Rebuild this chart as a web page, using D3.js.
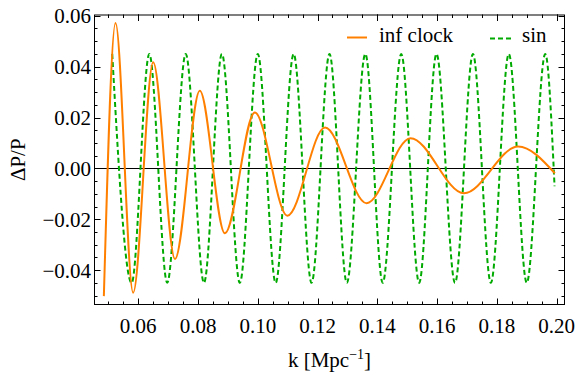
<!DOCTYPE html>
<html lang="en">
<head>
    <meta charset="UTF-8">
    <title>inf clock vs sin</title>
    <script src="https://d3js.org/d3.v7.min.js"></script>
    <style>
        body {margin: 0; background: white;}
        svg text {
            font-family: "Liberation Serif", "Times New Roman", Tinos, "DejaVu Serif", "Noto Serif", Times, serif;
            fill: black;
        }
    </style>
</head>
<body>
<script>
    // values: extrema (and end points) of each curve
    const clockK = [0.0485, 0.0524, 0.0583, 0.0650, 0.0723, 0.0806, 0.0890, 0.0990, 0.1099,
                    0.1225, 0.1364, 0.1511, 0.1690, 0.1871, 0.1994];
    const clockV = [-0.0502, 0.0572, -0.0489, 0.0417, -0.0356, 0.0305, -0.0255, 0.0220, -0.0186,
                    0.0161, -0.0137, 0.0119, -0.0098, 0.0086, -0.0019];

    const sinK = [0.0513, 0.0578, 0.0637, 0.0697, 0.0759, 0.0820, 0.0880, 0.0940, 0.1000,
                  0.1060, 0.1120, 0.1180, 0.1240, 0.1298, 0.1360, 0.1418, 0.1480, 0.1540,
                  0.1598, 0.1660, 0.1720, 0.1780, 0.1840, 0.1900, 0.1962, 0.1993];
    const sinV = [0.045, -0.045, 0.045, -0.045, 0.045, -0.045, 0.045, -0.045, 0.045,
                  -0.045, 0.045, -0.045, 0.045, -0.045, 0.045, -0.045, 0.045, -0.045,
                  0.045, -0.045, 0.045, -0.045, 0.045, -0.045, 0.045, -0.007];

    const xTicks = [0.06, 0.08, 0.10, 0.12, 0.14, 0.16, 0.18, 0.20];
    const yTicks = [-0.04, -0.02, 0.00, 0.02, 0.04, 0.06];
    const legendLabels = ["inf clock", "sin"];

    const width = 576;
    const height = 377;
    const margin = {top: 14.5, right: 11, bottom: 72, left: 94};
    const serif = '"Liberation Serif", "Times New Roman", Tinos, "DejaVu Serif", "Noto Serif", Times, serif';

    const svg = d3.select("body").append("svg")
            .attr("width", width).attr("height", height)
            .attr("font-family", serif);

    const x = d3.scaleLinear().domain([0.0452, 0.2028])
            .range([margin.left, width - margin.right]);
    const y = d3.scaleLinear().domain([-0.0537, 0.0605])
            .range([height - margin.bottom, margin.top]);

    const fmt = v => (v < 0 ? "\u2212" : "") + Math.abs(v).toFixed(2);

    const xMinor = d3.range(0.05, 0.2026, 0.005).map(v => +v.toFixed(3));
    const yMinor = d3.range(-0.05, 0.0604, 0.005).map(v => +v.toFixed(3));

    // the frame's ticks all point inward
    const x0 = x.range()[0], x1 = x.range()[1];
    const y0 = y.range()[0], y1 = y.range()[1];
    const ticks = svg.append("g").attr("stroke", "black").attr("stroke-width", 1);

    function addX(vals, len) {
        vals.forEach(v => {
            const px = Math.round(x(v)) + 0.5;
            ticks.append("line").attr("x1", px).attr("x2", px).attr("y1", y0).attr("y2", y0 - len);
            ticks.append("line").attr("x1", px).attr("x2", px).attr("y1", y1).attr("y2", y1 + len);
        });
    }
    function addY(vals, len) {
        vals.forEach(v => {
            const py = Math.round(y(v)) + 0.5;
            ticks.append("line").attr("x1", x0).attr("x2", x0 + len).attr("y1", py).attr("y2", py);
            ticks.append("line").attr("x1", x1).attr("x2", x1 - len).attr("y1", py).attr("y2", py);
        });
    }
    addX(xMinor, 3.5);
    addX(xTicks, 6.5);
    addY(yMinor, 3.5);
    addY(yTicks, 6.5);

    svg.append("g").selectAll("text")
            .data(xTicks).join("text")
            .attr("x", d => x(d))
            .attr("y", 333)
            .attr("text-anchor", "middle")
            .attr("font-family", serif)
            .style("font-size", "21px")
            .text(fmt);

    svg.append("g").selectAll("text")
            .data(yTicks).join("text")
            .attr("x", 91)
            .attr("y", d => y(d) + 7.5)
            .attr("text-anchor", "end")
            .attr("font-family", serif)
            .style("font-size", "21px")
            .text(fmt);

    // zero line
    svg.append("line")
            .attr("x1", x0).attr("x2", x1)
            .attr("y1", Math.round(y(0)) + 0.5).attr("y2", Math.round(y(0)) + 0.5)
            .attr("stroke", "black").attr("stroke-width", 1);

    const line = d3.line()
            .x(d => x(d[0]))
            .y(d => y(d[1]))
            .curve(d3.curveMonotoneX);

    svg.append("path")
            .datum(sinK.map((k, i) => [k, sinV[i]]))
            .attr("d", line)
            .attr("fill", "none")
            .attr("stroke", "#00aa00")
            .attr("stroke-width", 2)
            .attr("stroke-dasharray", "5,3");

    svg.append("path")
            .datum(clockK.map((k, i) => [k, clockV[i]]))
            .attr("d", line)
            .attr("fill", "none")
            .attr("stroke", "#ff8000")
            .attr("stroke-width", 2);

    // frame
    svg.append("rect")
            .attr("x", x0 + 0.5).attr("y", y1 + 0.5)
            .attr("width", x1 - x0 - 1).attr("height", y0 - y1 - 1)
            .attr("fill", "none")
            .attr("stroke", "black").attr("stroke-width", 1);

    // legend
    const legend = svg.append("g").attr("font-family", serif);
    legend.append("line").attr("x1", 347).attr("x2", 367).attr("y1", 37.5).attr("y2", 37.5)
            .attr("stroke", "#ff8000").attr("stroke-width", 2);
    legend.append("text").attr("x", 379).attr("y", 42).style("font-size", "21px").text(legendLabels[0]);
    legend.append("line").attr("x1", 490).attr("x2", 511).attr("y1", 38.5).attr("y2", 38.5)
            .attr("stroke", "#00aa00").attr("stroke-width", 2).attr("stroke-dasharray", "5,3");
    legend.append("text").attr("x", 522).attr("y", 42).style("font-size", "21px").text(legendLabels[1]);

    // axis labels
    const xl = svg.append("text")
            .attr("x", (x0 + x1) / 2)
            .attr("y", 367)
            .attr("text-anchor", "middle")
            .attr("font-family", serif)
            .style("font-size", "21px");
    xl.append("tspan").text("k [Mpc");
    xl.append("tspan").attr("dy", -8).style("font-size", "14px").text("\u22121");
    xl.append("tspan").attr("dy", 8).text("]");

    svg.append("text")
            .attr("transform", `translate(25,${(y0 + y1) / 2}) rotate(-90)`)
            .attr("text-anchor", "middle")
            .attr("font-family", serif)
            .style("font-size", "21px")
            .text("\u0394P/P");
</script>
</body>
</html>
